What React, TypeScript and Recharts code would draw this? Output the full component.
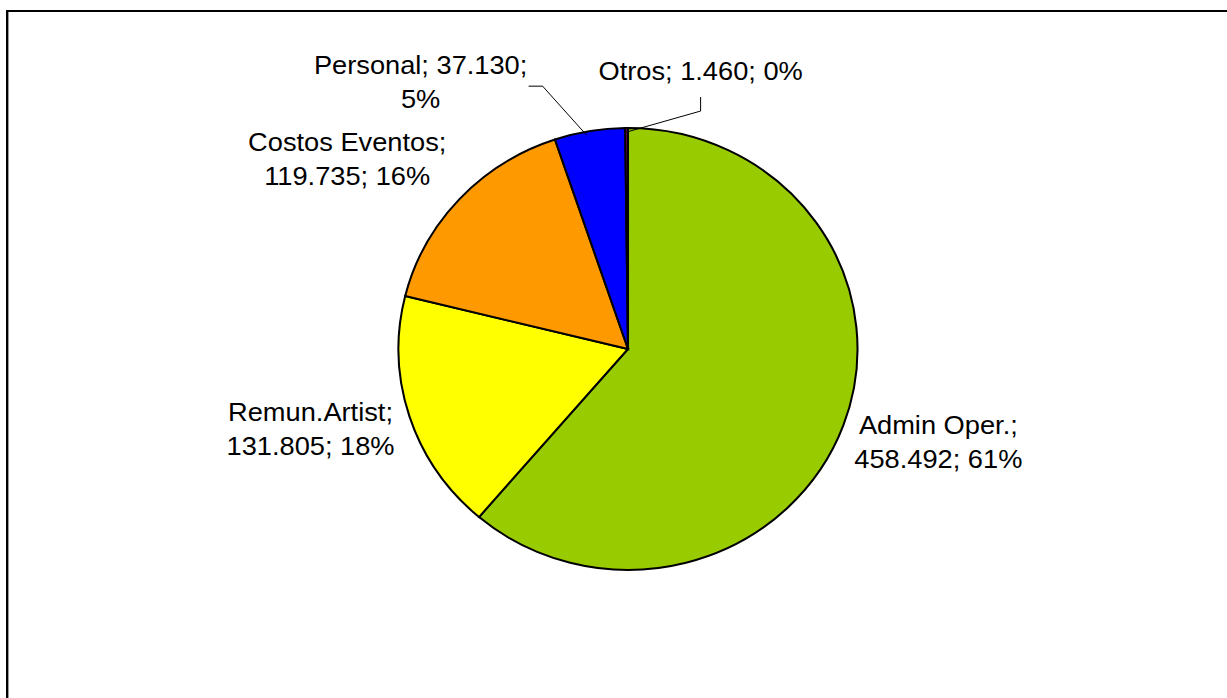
import React from "react";
import { PieChart, Pie, Cell, Sector } from "recharts";

// slice data, clockwise from 12 o'clock
const categories = ["Admin Oper.", "Remun.Artist", "Costos Eventos", "Personal", "Otros"];
const amounts = [458492, 131805, 119735, 37130, 1460];
const colors = ["#99CC00", "#FFFF00", "#FF9900", "#0000FF", "#800060"];

// how many "; "-segments go on the first label line
const firstLineParts = [1, 1, 1, 2, 3];

// label placement relative to the slice's point on the rim
const labelOffset = [
  { dx: 95, dy: 9 },
  { dx: -99, dy: 4 },
  { dx: -112, dy: -48 },
  { dx: -169, dy: -57 },
  { dx: 74, dy: -48 },
];
// leader lines (elbow, end) relative to the rim point, only for thin slices
const leaders: Record<number, [number, number][]> = {
  3: [[-3, 4], [-47, -45], [-61, -45]],
  4: [[0, 4], [74, -17], [74, -31]],
};

const RADIAN = Math.PI / 180;
const FONT = "'Liberation Sans', Arial, sans-serif";
const LINE_H = 34;
// the original pie is slightly wider than tall
const SX = 1.02;
const SY = 0.982;

const fmt = (n: number) => n.toString().replace(/\B(?=(\d{3})+(?!\d))/g, ".");

const data = categories.map((name, i) => ({ name, value: amounts[i] }));

function renderShape(props: any) {
  const { cx, cy } = props;
  return (
    <g transform={`translate(${cx},${cy}) scale(${SX},${SY}) translate(${-cx},${-cy})`}>
      <Sector {...props} />
    </g>
  );
}

function renderLabel(props: any) {
  const { cx, cy, midAngle, outerRadius, index, percent, name, value } = props;
  const px = cx + SX * outerRadius * Math.cos(-midAngle * RADIAN);
  const py = cy + SY * outerRadius * Math.sin(-midAngle * RADIAN);
  const parts = [name + ";", fmt(value) + ";", Math.round(percent * 100) + "%"];
  const k = firstLineParts[index];
  const lines = [parts.slice(0, k).join(" "), parts.slice(k).join(" ")].filter((l) => l);
  const off = labelOffset[index];
  const lead = leaders[index];
  return (
    <g key={`lbl-${index}`}>
      {lead && (
        <polyline
          points={lead.map(([x, y]) => `${px + x},${py + y}`).join(" ")}
          fill="none"
          stroke="#000"
          strokeWidth={1}
        />
      )}
      <g transform={`translate(${px + off.dx},${py + off.dy}) scale(1.09,1)`}>
        {lines.map((l, j) => (
          <text
            key={j}
            x={0}
            y={j * LINE_H}
            textAnchor="middle"
            fontFamily={FONT}
            fontSize={25}
            fill="#000"
          >
            {l}
          </text>
        ))}
      </g>
    </g>
  );
}

export default function App() {
  return (
    <div style={{ position: "relative", width: 1227, height: 698, overflow: "hidden", background: "#fff" }}>
      <style>{`body{margin:0}`}</style>
      <div
        style={{
          position: "absolute",
          left: 6,
          top: 10,
          width: 1400,
          height: 900,
          borderTop: "2px solid #000",
          borderLeft: "2px solid #000",
          boxShadow: "inset 1px 0 0 #999",
        }}
      />
      <div style={{ position: "absolute", left: 0, top: 0 }}>
        <PieChart width={1227} height={698} margin={{ top: 0, right: 0, bottom: 0, left: 0 }}>
          <Pie
            data={data}
            dataKey="value"
            nameKey="name"
            cx={628}
            cy={349}
            outerRadius={225}
            startAngle={90}
            endAngle={-270}
            stroke="#000"
            strokeWidth={2}
            shape={renderShape}
            label={renderLabel}
            labelLine={false}
            isAnimationActive={false}
          >
            {data.map((d, i) => (
              <Cell key={d.name} fill={colors[i]} />
            ))}
          </Pie>
        </PieChart>
      </div>
    </div>
  );
}
